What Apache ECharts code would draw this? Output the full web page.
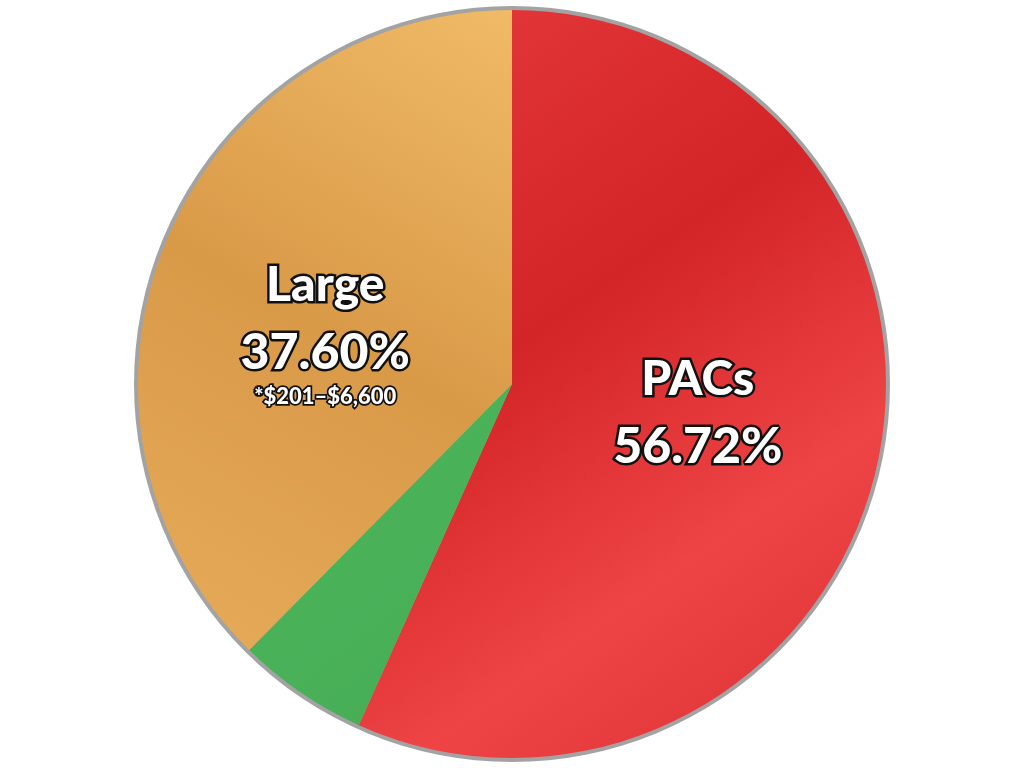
<!DOCTYPE html>
<html><head><meta charset="utf-8">
<style>html,body{margin:0;padding:0;background:#fff}#c{width:1024px;height:768px}</style>
<script src="https://cdn.jsdelivr.net/npm/echarts@6/dist/echarts.min.js"></script>
</head><body><div id="c"></div>
<script>
const categories = ['PACs', 'Small', 'Large'];
const values = [56.72, 5.68, 37.60];
const notes = ['', '', '*$201–$6,600'];
const showLabel = [true, false, true];

const colors = [
  {type:'linear',x:0,y:0,x2:1,y2:1,colorStops:[{offset:0,color:'#e63a3c'},{offset:0.4,color:'#d32427'},{offset:0.7,color:'#ee4446'},{offset:1,color:'#dc3032'}]},
  {type:'linear',x:0,y:0,x2:1,y2:1,colorStops:[{offset:0,color:'#4cb75c'},{offset:1,color:'#46ac55'}]},
  {type:'linear',x:1,y:0,x2:0,y2:1,colorStops:[{offset:0,color:'#f0ba66'},{offset:0.5,color:'#d99a48'},{offset:1,color:'#e6ab5a'}]}
];
const labelPad = [[0,0,22,0],[0,0,0,0],[36,22,0,0]];

const chart = echarts.init(document.getElementById('c'));
const font = 'Lato';
chart.setOption({
  animation:false,
  series:[
    {type:'pie',radius:378,center:['50%','50%'],silent:true,z:1,label:{show:false},
     data:[{value:1,itemStyle:{color:'#a3a3a3'}}]},
    {type:'pie',radius:374,center:['50%','50%'],startAngle:90,clockwise:true,z:2,
     itemStyle:{borderWidth:0},
     label:{position:'inside',fontFamily:font},
     labelLine:{show:false},
     data:categories.map((c,i)=>({
       name:c,value:values[i],
       itemStyle:{color:colors[i]},
       label:{show:showLabel[i],padding:labelPad[i],
         formatter:()=> '{n|'+c+'}\n{p|'+values[i].toFixed(2)+'%}'+(notes[i]?'\n{s|'+notes[i]+'}':''),
         rich:{
           n:{fontFamily:font,fontWeight:900,fontSize:48,color:'#fff',textBorderColor:'#111',textBorderWidth:5,lineHeight:68},
           p:{fontFamily:font,fontWeight:900,fontSize:50,color:'#fff',textBorderColor:'#111',textBorderWidth:5,lineHeight:66},
           s:{fontFamily:font,fontWeight:900,fontSize:22,color:'#fff',textBorderColor:'#111',textBorderWidth:3.5,lineHeight:22}
         }}
     }))
    }
  ]
});
</script></body></html>
